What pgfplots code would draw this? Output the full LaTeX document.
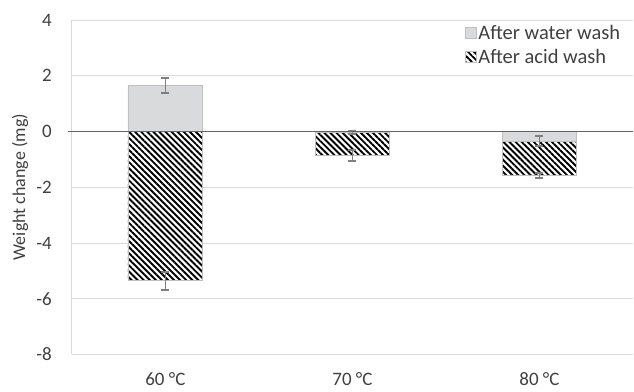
\documentclass[border=0pt]{standalone}
\usepackage{pgfplots}
\pgfplotsset{compat=1.18}
\usepackage{fontspec}
\setmainfont{Carlito}
\usetikzlibrary{patterns.meta}
\definecolor{txt}{RGB}{64,64,64}
\definecolor{gridc}{RGB}{217,217,217}
\definecolor{waterfill}{RGB}{217,218,220}
\definecolor{barline}{RGB}{191,191,191}
\definecolor{errc}{RGB}{127,127,127}
\definecolor{zeroc}{RGB}{100,100,100}
\begin{document}
\begin{tikzpicture}
\begin{axis}[
  name=ax,
  scale only axis,
  width=562pt, height=335pt,
  xmin=-0.5, xmax=2.5,
  ymin=-8, ymax=4,
  ytick={-8,-6,...,4},
  xtick={0,1,2},
  xticklabels={60 °C, 70 °C, 80 °C},
  /pgf/number format/assume math mode=true,
  ticklabel style={font=\fontsize{19}{22}\selectfont, text=txt, inner sep=0pt},
  xticklabel style={yshift=-18pt},
  yticklabel style={xshift=-20pt},
  ylabel={Weight change (mg)},
  ylabel style={font=\fontsize{18}{21}\selectfont, text=txt, at={(axis description cs:-0.0925,0.5)}, anchor=center},
  major tick length=0pt,
  ymajorgrids,
  grid style={gridc, line width=0.8pt},
  axis lines*=left,
  x axis line style={draw=none},
  y axis line style={draw=gridc, line width=0.8pt},
  clip=false,
  reverse legend,
  legend style={at={(rel axis cs:0.981,0.99)}, anchor=north east, draw=none, fill=none,
    font=\fontsize{20.5}{23}\selectfont, text=txt, row sep=4pt, inner sep=0pt,
    /tikz/every even column/.append style={column sep=1pt}},
  legend cell align=left,
  legend image code/.code={\draw[#1, draw=barline] (0pt,-5.5pt) rectangle (11pt,5.5pt);},
  error bars/y dir=both, error bars/y explicit,
  error bars/error bar style={errc, line width=1.8pt},
  error bars/error mark options={rotate=90, errc, mark size=4pt, line width=1.8pt},
]
% acid wash (drawn first so water bar overlays it)
\addplot[ybar, bar width=0.4, bar shift=0pt, fill=white, draw=barline, line width=0.8pt,
  postaction={pattern={Lines[angle=-45,distance=4.3pt,line width=1.9pt]}}]
  coordinates {(0,-5.36) +- (0,0.33) (1,-0.86) +- (0,0.2) (2,-1.59) +- (0,0.09)};
\addlegendentry{After acid wash}
% water wash
\addplot[ybar, bar width=0.4, bar shift=0pt, fill=waterfill, draw=barline, line width=0.8pt]
  coordinates {(0,1.65) +- (0,0.27) (1,-0.04) +- (0,0.06) (2,-0.35) +- (0,0.18)};
\addlegendentry{After water wash}
% zero line
\addplot[zeroc, line width=1.3pt, forget plot, no marks, error bars/y dir=none] coordinates {(-0.52,0) (2.5,0)};
\end{axis}
\path ([xshift=-72pt,yshift=-37pt]ax.south west) rectangle ([xshift=1pt,yshift=20pt]ax.north east);
\end{tikzpicture}
\end{document}
